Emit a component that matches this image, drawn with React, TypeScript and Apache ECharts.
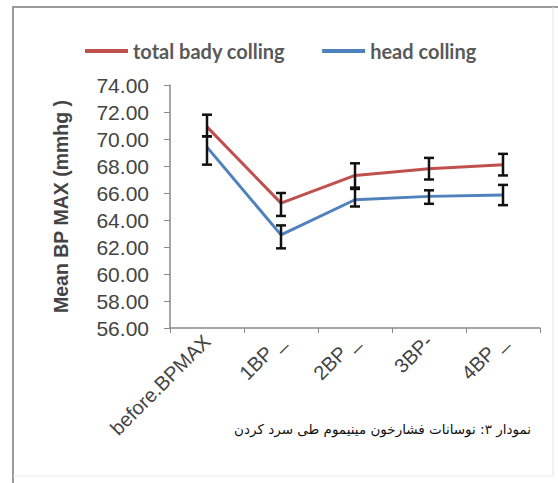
import React, { useEffect, useRef } from "react";
import * as echarts from "echarts";

const categories = ["before.BPMAX", "1BP _", "2BP _", "3BP-", "4BP _"];
const totalBody = [70.9, 65.25, 67.3, 67.8, 68.1];
const totalBodyLow = [70.2, 64.3, 66.4, 67.0, 67.3];
const totalBodyHigh = [71.8, 66.0, 68.2, 68.6, 68.9];
const headCool = [69.4, 62.9, 65.5, 65.75, 65.85];
const headLow = [68.1, 61.9, 65.0, 65.2, 65.1];
const headHigh = [70.2, 63.6, 66.3, 66.2, 66.6];
const seriesNames = ["total bady colling", "head colling"];
const caption = "نمودار ۳: نوسانات فشارخون مینیموم طی سرد کردن";

function errorSeries(low: number[], high: number[]) {
  return {
    type: "custom",
    z: 10,
    data: low.map((l, i) => [i, l, high[i]]),
    renderItem: (params: any, api: any) => {
      const x = api.value(0);
      const lo = api.coord([x, api.value(1)]);
      const hi = api.coord([x, api.value(2)]);
      const w = 5;
      const style = { stroke: "#111", lineWidth: 2.5 };
      return {
        type: "group",
        children: [
          { type: "line", shape: { x1: lo[0], y1: lo[1], x2: hi[0], y2: hi[1] }, style },
          { type: "line", shape: { x1: lo[0] - w, y1: lo[1], x2: lo[0] + w, y2: lo[1] }, style },
          { type: "line", shape: { x1: hi[0] - w, y1: hi[1], x2: hi[0] + w, y2: hi[1] }, style },
        ],
      };
    },
  };
}

export default function App() {
  const ref = useRef<HTMLDivElement>(null);
  useEffect(() => {
    document.body.style.margin = "0";
    const chart = echarts.init(ref.current!, null, { renderer: "svg" });
    chart.setOption({
      animation: false,
      backgroundColor: "#fff",
      grid: { left: 170, right: 18, top: 85, bottom: 155 },
      legend: {
        left: 80,
        top: 36,
        itemWidth: 43,
        itemHeight: 4,
        itemGap: 37,
        icon: "rect",
        textStyle: { fontFamily: "Lato", fontWeight: "bold", fontSize: 20, color: "#595959" },
        data: seriesNames,
      },
      xAxis: {
        type: "category",
        data: categories,
        boundaryGap: true,
        axisLine: { lineStyle: { color: "#8a8a8a", width: 1.5 } },
        axisTick: { show: true, length: 5, lineStyle: { color: "#8a8a8a" } },
        axisLabel: { rotate: 45, fontFamily: "Liberation Sans, Arial", fontSize: 20, color: "#444", margin: 10 },
      },
      yAxis: {
        type: "value",
        min: 56,
        max: 74,
        interval: 2,
        splitLine: { show: false },
        axisLine: { show: true, lineStyle: { color: "#8a8a8a", width: 1.5 } },
        axisTick: { show: true, length: 6, lineStyle: { color: "#8a8a8a" } },
        axisLabel: {
          formatter: (v: number) => v.toFixed(2),
          fontFamily: "Liberation Sans, Arial",
          fontSize: 21,
          color: "#444",
          margin: 21,
        },
        name: "Mean BP MAX (mmhg )",
        nameLocation: "middle",
        nameRotate: 90,
        nameGap: 99,
        nameTextStyle: { fontFamily: "Liberation Sans, Arial", fontWeight: "bold", fontSize: 19.5, color: "#444" },
      },
      graphic: [
        { type: "line", shape: { x1: 12, y1: 7, x2: 558, y2: 7 }, style: { stroke: "#9a9a9a", lineWidth: 2 } },
        { type: "line", shape: { x1: 13, y1: 7, x2: 13, y2: 483 }, style: { stroke: "#9a9a9a", lineWidth: 2 } },
        { type: "line", shape: { x1: 553, y1: 7, x2: 553, y2: 476 }, style: { stroke: "#e6e6e6", lineWidth: 1 } },
        { type: "line", shape: { x1: 13, y1: 476, x2: 553, y2: 476 }, style: { stroke: "#ececec", lineWidth: 1 } },
        {
          type: "text",
          right: 27,
          top: 422,
          style: { text: caption, fontFamily: "DejaVu Sans", fontSize: 13.5, fill: "#111", align: "right" },
        },
      ],
      series: [
        {
          name: seriesNames[0],
          type: "line",
          data: totalBody,
          symbol: "none",
          lineStyle: { color: "#c0504d", width: 3 },
          itemStyle: { color: "#c0504d" },
        },
        {
          name: seriesNames[1],
          type: "line",
          data: headCool,
          symbol: "none",
          lineStyle: { color: "#4f81bd", width: 3 },
          itemStyle: { color: "#4f81bd" },
        },
        errorSeries(totalBodyLow, totalBodyHigh),
        errorSeries(headLow, headHigh),
      ],
    });
    return () => chart.dispose();
  }, []);
  return <div ref={ref} style={{ width: 558, height: 483 }} />;
}
